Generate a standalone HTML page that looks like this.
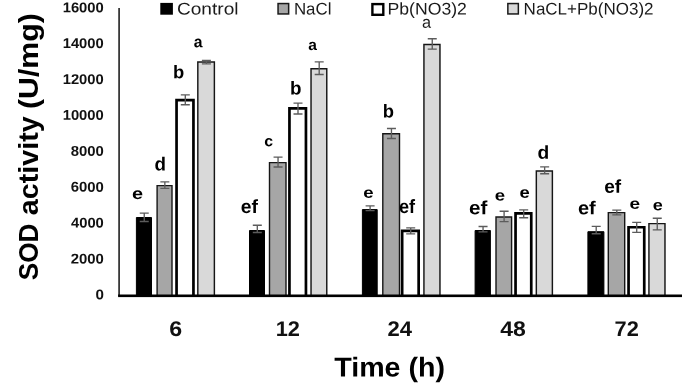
<!DOCTYPE html>
<html><head><meta charset="utf-8"><title>SOD activity chart</title>
<style>
html,body{margin:0;padding:0;background:#fff;}
body{width:685px;height:391px;overflow:hidden;}
svg{display:block;font-family:"Liberation Sans",sans-serif;}
</style></head><body>
<svg width="685" height="391" viewBox="0 0 685 391">
<rect x="0" y="0" width="685" height="391" fill="#fff"/>
<rect x="118.2" y="8" width="1.8" height="288" fill="#383838"/>
<path d="M136.40 296.00V217.50H151.50V296.00" fill="#000" stroke="#000" stroke-width="1.0"/>
<path d="M157.10 296.00V185.60H172.00V296.00" fill="#a6a6a6" stroke="#161616" stroke-width="1.4"/>
<path d="M176.55 296.00V100.05H193.45V296.00" fill="#fff" stroke="#000" stroke-width="2.7"/>
<path d="M197.82 296.00V61.93H214.38V296.00" fill="#d9d9d9" stroke="#161616" stroke-width="1.45"/>
<path d="M139.75 213.10H148.75M139.75 221.50H148.75M144.25 213.10V221.50" stroke="#5c5c5c" stroke-width="1.35" fill="none"/>
<path d="M160.35 181.90H169.35M160.35 188.40H169.35M164.85 181.90V188.40" stroke="#5c5c5c" stroke-width="1.35" fill="none"/>
<path d="M180.80 94.80H189.80M180.80 104.70H189.80M185.30 94.80V104.70" stroke="#5c5c5c" stroke-width="1.35" fill="none"/>
<path d="M201.90 60.50H210.90M201.90 63.80H210.90M206.40 60.50V63.80" stroke="#5c5c5c" stroke-width="1.35" fill="none"/>
<path d="M249.50 296.00V230.50H264.50V296.00" fill="#000" stroke="#000" stroke-width="1.0"/>
<path d="M269.50 296.00V162.60H286.00V296.00" fill="#a6a6a6" stroke="#161616" stroke-width="1.4"/>
<path d="M289.45 296.00V108.35H305.95V296.00" fill="#fff" stroke="#000" stroke-width="2.7"/>
<path d="M311.03 296.00V68.72H326.77V296.00" fill="#d9d9d9" stroke="#161616" stroke-width="1.45"/>
<path d="M252.80 225.20H261.80M252.80 232.50H261.80M257.30 225.20V232.50" stroke="#5c5c5c" stroke-width="1.35" fill="none"/>
<path d="M273.55 157.10H282.55M273.55 167.00H282.55M278.05 157.10V167.00" stroke="#5c5c5c" stroke-width="1.35" fill="none"/>
<path d="M293.50 103.10H302.50M293.50 114.00H302.50M298.00 103.10V114.00" stroke="#5c5c5c" stroke-width="1.35" fill="none"/>
<path d="M314.70 61.90H323.70M314.70 74.50H323.70M319.20 61.90V74.50" stroke="#5c5c5c" stroke-width="1.35" fill="none"/>
<path d="M362.40 296.00V209.60H377.20V296.00" fill="#000" stroke="#000" stroke-width="1.0"/>
<path d="M382.80 296.00V133.70H399.50V296.00" fill="#a6a6a6" stroke="#161616" stroke-width="1.4"/>
<path d="M402.15 296.00V230.95H418.65V296.00" fill="#fff" stroke="#000" stroke-width="2.7"/>
<path d="M423.93 296.00V44.52H439.97V296.00" fill="#d9d9d9" stroke="#161616" stroke-width="1.45"/>
<path d="M365.60 205.90H374.60M365.60 210.60H374.60M370.10 205.90V210.60" stroke="#5c5c5c" stroke-width="1.35" fill="none"/>
<path d="M386.95 128.50H395.95M386.95 138.50H395.95M391.45 128.50V138.50" stroke="#5c5c5c" stroke-width="1.35" fill="none"/>
<path d="M406.20 227.90H415.20M406.20 233.90H415.20M410.70 227.90V233.90" stroke="#5c5c5c" stroke-width="1.35" fill="none"/>
<path d="M427.75 38.70H436.75M427.75 49.10H436.75M432.25 38.70V49.10" stroke="#5c5c5c" stroke-width="1.35" fill="none"/>
<path d="M475.10 296.00V230.50H490.40V296.00" fill="#000" stroke="#000" stroke-width="1.0"/>
<path d="M496.00 296.00V217.00H511.60V296.00" fill="#a6a6a6" stroke="#161616" stroke-width="1.4"/>
<path d="M515.55 296.00V213.45H531.25V296.00" fill="#fff" stroke="#000" stroke-width="2.7"/>
<path d="M536.33 296.00V171.03H552.38V296.00" fill="#d9d9d9" stroke="#161616" stroke-width="1.45"/>
<path d="M478.55 226.50H487.55M478.55 231.80H487.55M483.05 226.50V231.80" stroke="#5c5c5c" stroke-width="1.35" fill="none"/>
<path d="M499.60 211.20H508.60M499.60 221.60H508.60M504.10 211.20V221.60" stroke="#5c5c5c" stroke-width="1.35" fill="none"/>
<path d="M519.20 209.90H528.20M519.20 217.70H528.20M523.70 209.90V217.70" stroke="#5c5c5c" stroke-width="1.35" fill="none"/>
<path d="M540.15 166.80H549.15M540.15 173.70H549.15M544.65 166.80V173.70" stroke="#5c5c5c" stroke-width="1.35" fill="none"/>
<path d="M587.90 296.00V231.70H603.90V296.00" fill="#000" stroke="#000" stroke-width="1.0"/>
<path d="M608.30 296.00V212.60H624.70V296.00" fill="#a6a6a6" stroke="#161616" stroke-width="1.4"/>
<path d="M628.55 296.00V227.25H644.25V296.00" fill="#fff" stroke="#000" stroke-width="2.7"/>
<path d="M648.93 296.00V223.62H664.98V296.00" fill="#d9d9d9" stroke="#161616" stroke-width="1.45"/>
<path d="M591.70 226.40H600.70M591.70 233.70H600.70M596.20 226.40V233.70" stroke="#5c5c5c" stroke-width="1.35" fill="none"/>
<path d="M612.30 210.10H621.30M612.30 214.90H621.30M616.80 210.10V214.90" stroke="#5c5c5c" stroke-width="1.35" fill="none"/>
<path d="M632.20 222.40H641.20M632.20 232.40H641.20M636.70 222.40V232.40" stroke="#5c5c5c" stroke-width="1.35" fill="none"/>
<path d="M652.75 218.20H661.75M652.75 229.80H661.75M657.25 218.20V229.80" stroke="#5c5c5c" stroke-width="1.35" fill="none"/>
<rect x="118.1" y="294.5" width="563.9" height="2.6" fill="#000"/>
<text transform="matrix(0.9244 0.001 -0.001 0.8834 62.68 12.16)" font-size="16" font-weight="700" fill="#111">16000</text>
<text transform="matrix(0.9244 0.001 -0.001 0.8834 62.68 48.05)" font-size="16" font-weight="700" fill="#111">14000</text>
<text transform="matrix(0.9244 0.001 -0.001 0.8834 62.68 83.94)" font-size="16" font-weight="700" fill="#111">12000</text>
<text transform="matrix(0.9244 0.001 -0.001 0.8834 62.68 119.83)" font-size="16" font-weight="700" fill="#111">10000</text>
<text transform="matrix(0.9302 0.001 -0.001 0.8834 70.72 155.72)" font-size="16" font-weight="700" fill="#111">8000</text>
<text transform="matrix(0.9324 0.001 -0.001 0.8834 70.64 191.61)" font-size="16" font-weight="700" fill="#111">6000</text>
<text transform="matrix(0.9227 0.001 -0.001 0.8834 70.98 227.50)" font-size="16" font-weight="700" fill="#111">4000</text>
<text transform="matrix(0.9313 0.001 -0.001 0.8834 70.68 263.39)" font-size="16" font-weight="700" fill="#111">2000</text>
<text transform="matrix(0.9474 0.001 -0.001 0.8834 95.39 299.28)" font-size="16" font-weight="700" fill="#111">0</text>
<text transform="matrix(1.4508 0.001 -0.001 1.3251 169.13 335.99)" font-size="16" font-weight="700" fill="#111">6</text>
<text transform="matrix(1.3614 0.001 -0.001 1.3262 275.64 336.00)" font-size="16" font-weight="700" fill="#111">12</text>
<text transform="matrix(1.3785 0.001 -0.001 1.3262 387.53 336.00)" font-size="16" font-weight="700" fill="#111">24</text>
<text transform="matrix(1.4378 0.001 -0.001 1.3251 500.15 335.99)" font-size="16" font-weight="700" fill="#111">48</text>
<text transform="matrix(1.3592 0.001 -0.001 1.3262 614.58 336.00)" font-size="16" font-weight="700" fill="#111">72</text>
<text transform="matrix(1.0227 0.001 -0.001 0.9766 334.21 376.40)" font-size="28" font-weight="700" fill="#000">Time (h)</text>
<text transform="matrix(0 -0.9359 0.9818 0 37.80 280.29)" font-size="28" font-weight="700" fill="#000">SOD</text>
<text transform="matrix(0 -1.0253 0.9818 0 37.80 215.16)" font-size="28" font-weight="700" fill="#000">activity</text>
<text transform="matrix(0 -1.0837 0.9818 0 37.80 109.12)" font-size="28" font-weight="700" fill="#000">(U/mg)</text>
<rect x="160.30" y="2.90" width="12.60" height="11.80" fill="#000" stroke="#000" stroke-width="0"/>
<text transform="matrix(1.1947 0.001 -0.001 1.0545 176.94 14.50)" font-size="16" font-weight="400" fill="#1a1a1a">Control</text>
<rect x="278.05" y="3.55" width="10.60" height="10.40" fill="#a6a6a6" stroke="#1a1a1a" stroke-width="1.5"/>
<text transform="matrix(1.0555 0.001 -0.001 1.0545 293.91 14.50)" font-size="16" font-weight="400" fill="#1a1a1a">NaCl</text>
<rect x="372.40" y="4.10" width="10.90" height="10.70" fill="#fff" stroke="#000" stroke-width="2.4"/>
<text transform="matrix(1.1019 0.001 -0.001 1.0545 387.55 14.50)" font-size="16" font-weight="400" fill="#1a1a1a">Pb(NO3)2</text>
<rect x="507.85" y="3.55" width="10.50" height="10.40" fill="#d9d9d9" stroke="#1a1a1a" stroke-width="1.5"/>
<text transform="matrix(1.0631 0.001 -0.001 1.0545 523.60 14.50)" font-size="16" font-weight="400" fill="#1a1a1a">NaCL+Pb(NO3)2</text>
<text transform="matrix(1.2435 0.001 -0.001 1.0046 132.00 199.04)" font-size="16" font-weight="700" fill="#000">e</text>
<text transform="matrix(1.1757 0.001 -0.001 1.1905 154.45 170.41)" font-size="16" font-weight="700" fill="#000">d</text>
<text transform="matrix(1.1510 0.001 -0.001 1.1480 173.10 78.32)" font-size="16" font-weight="700" fill="#000">b</text>
<text transform="matrix(0.9859 0.001 -0.001 1.0046 193.63 47.34)" font-size="16" font-weight="700" fill="#000">a</text>
<text transform="matrix(1.2059 0.001 -0.001 1.1905 240.83 212.91)" font-size="16" font-weight="700" fill="#000">ef</text>
<text transform="matrix(0.9872 0.001 -0.001 0.9589 264.37 146.25)" font-size="16" font-weight="700" fill="#000">c</text>
<text transform="matrix(1.1757 0.001 -0.001 1.1650 289.98 94.41)" font-size="16" font-weight="700" fill="#000">b</text>
<text transform="matrix(0.9742 0.001 -0.001 0.9589 308.23 49.95)" font-size="16" font-weight="700" fill="#000">a</text>
<text transform="matrix(1.1658 0.001 -0.001 0.9589 363.25 197.65)" font-size="16" font-weight="700" fill="#000">e</text>
<text transform="matrix(1.1510 0.001 -0.001 1.1565 382.70 117.61)" font-size="16" font-weight="700" fill="#000">b</text>
<text transform="matrix(1.1324 0.001 -0.001 1.1990 398.88 213.11)" font-size="16" font-weight="700" fill="#000">ef</text>
<text transform="matrix(1.2868 0.001 -0.001 1.1990 469.08 214.31)" font-size="16" font-weight="700" fill="#000">ef</text>
<text transform="matrix(1.1658 0.001 -0.001 0.9589 494.85 200.45)" font-size="16" font-weight="700" fill="#000">e</text>
<text transform="matrix(1.1528 0.001 -0.001 0.9932 519.46 197.64)" font-size="16" font-weight="700" fill="#000">e</text>
<text transform="matrix(1.2005 0.001 -0.001 1.1650 537.43 158.71)" font-size="16" font-weight="700" fill="#000">d</text>
<text transform="matrix(1.2500 0.001 -0.001 1.1565 577.90 214.21)" font-size="16" font-weight="700" fill="#000">ef</text>
<text transform="matrix(1.1912 0.001 -0.001 1.1650 604.14 192.71)" font-size="16" font-weight="700" fill="#000">ef</text>
<text transform="matrix(1.1917 0.001 -0.001 0.9589 629.54 208.75)" font-size="16" font-weight="700" fill="#000">e</text>
<text transform="matrix(1.1269 0.001 -0.001 0.9703 652.78 210.14)" font-size="16" font-weight="700" fill="#000">e</text>
<text transform="matrix(1.0194 0.001 -0.001 1.0388 422.01 27.83)" font-size="16" font-weight="400" fill="#1a1a1a">a</text>
</svg>
</body></html>
